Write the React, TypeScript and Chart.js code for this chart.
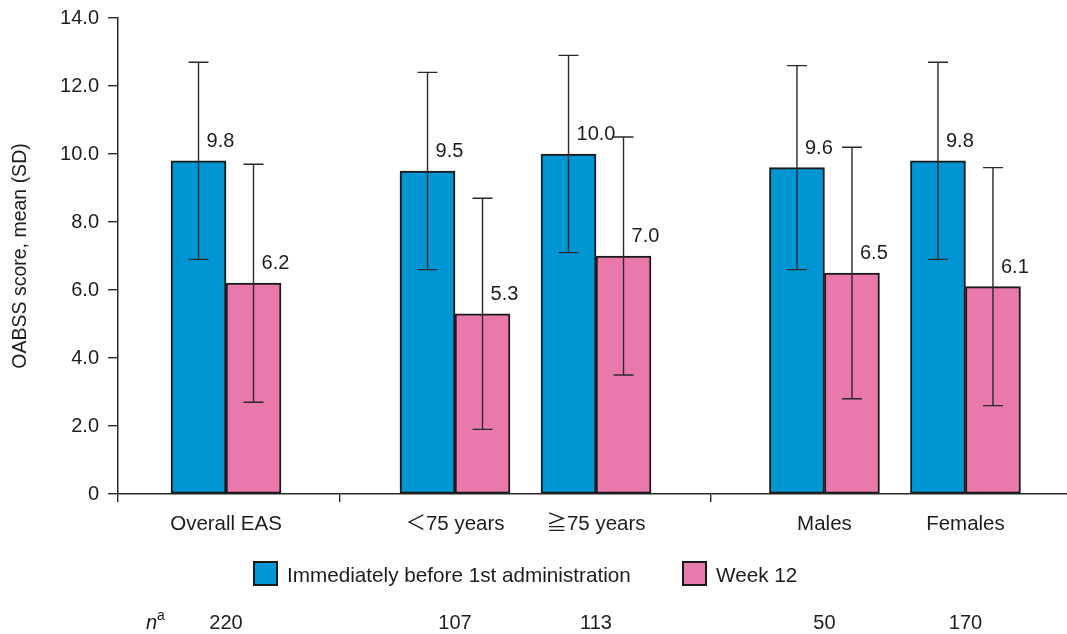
import { useEffect, useRef } from "react";
import { Chart, registerables } from "chart.js";

Chart.register(...registerables);

// ---- data ----
const categories = ["Overall EAS", "＜75 years", "≧75 years", "Males", "Females"];
const nValues = ["220", "107", "113", "50", "170"];
const seriesLabels = ["Immediately before 1st administration", "Week 12"];
const beforeMeans = [9.8, 9.5, 10.0, 9.6, 9.8];
const beforeSD = [2.9, 2.9, 2.9, 3.0, 2.9];
const week12Means = [6.2, 5.3, 7.0, 6.5, 6.1];
const week12SD = [3.5, 3.4, 3.5, 3.7, 3.5];
const yTickValues = [0, 2, 4, 6, 8, 10, 12, 14];

// ---- layout (axis units, not data) ----
const GROUP_POS = [0.766, 2.39, 3.39, 5.01, 6.01];
const SEPARATORS = [0, 1.574, 4.2];
const X_MAX = 6.73;

const FONT = '"Liberation Sans", Arial, Helvetica, "Noto Sans CJK JP", sans-serif';
const TEXT = "#1f1c1d";
const BLUE = "#0096d4";
const PINK = "#e979aa";
const LINE = "#2a2a2a";

const overlayPlugin = {
  id: "overlay",
  afterDatasetsDraw(chart: any) {
    const ctx = chart.ctx;
    const y = chart.scales.y;
    ctx.save();
    chart.data.datasets.forEach((ds: any, di: number) => {
      const meta = chart.getDatasetMeta(di);
      meta.data.forEach((el: any, i: number) => {
        const mean = ds.data[i].y;
        const sd = ds.sd[i];
        const top = y.getPixelForValue(mean + sd);
        const bot = y.getPixelForValue(mean - sd);
        ctx.strokeStyle = LINE;
        ctx.lineWidth = 1.4;
        ctx.beginPath();
        ctx.moveTo(el.x, top);
        ctx.lineTo(el.x, bot);
        ctx.moveTo(el.x - 10, top);
        ctx.lineTo(el.x + 10, top);
        ctx.moveTo(el.x - 10, bot);
        ctx.lineTo(el.x + 10, bot);
        ctx.stroke();
        ctx.fillStyle = TEXT;
        ctx.font = `20px ${FONT}`;
        ctx.textAlign = "left";
        ctx.textBaseline = "alphabetic";
        ctx.fillText(mean.toFixed(1), el.x + 8, el.y - 14);
      });
    });
    ctx.restore();
  },
  afterDraw(chart: any) {
    const ctx = chart.ctx;
    const x = chart.scales.x;
    ctx.save();
    ctx.fillStyle = TEXT;
    ctx.textBaseline = "alphabetic";
    // category labels
    ctx.font = `20.5px ${FONT}`;
    ctx.textAlign = "center";
    categories.forEach((c, i) => {
      ctx.fillText(c, x.getPixelForValue(GROUP_POS[i]), 530);
    });
    // legend
    const colors = [BLUE, PINK];
    const starts = [254, 683];
    seriesLabels.forEach((lab, i) => {
      const bx = starts[i];
      ctx.fillStyle = colors[i];
      ctx.fillRect(bx, 562, 23, 23);
      ctx.strokeStyle = "#1a1a1a";
      ctx.lineWidth = 2;
      ctx.strokeRect(bx, 562, 23, 23);
      ctx.fillStyle = TEXT;
      ctx.textAlign = "left";
      ctx.font = `20.7px ${FONT}`;
      ctx.fillText(lab, bx + 33, 582);
    });
    // n row
    ctx.font = `italic 20px ${FONT}`;
    ctx.textAlign = "left";
    ctx.fillText("n", 146, 629);
    ctx.font = `14px ${FONT}`;
    ctx.fillText("a", 157, 620);
    ctx.font = `20px ${FONT}`;
    ctx.textAlign = "center";
    nValues.forEach((n, i) => {
      ctx.fillText(n, x.getPixelForValue(GROUP_POS[i]), 629);
    });
    ctx.restore();
  },
};

export default function App() {
  const ref = useRef<HTMLCanvasElement | null>(null);
  useEffect(() => {
    document.body.style.margin = "0";
    if (!ref.current) return;
    Chart.defaults.font.family = FONT;
    Chart.defaults.color = TEXT;
    const chart = new Chart(ref.current, {
      type: "bar",
      data: {
        datasets: [
          {
            label: seriesLabels[0],
            data: beforeMeans.map((v, i) => ({ x: GROUP_POS[i], y: v })),
            backgroundColor: BLUE,
            borderColor: "#1a1a1a",
            borderWidth: 2,
            borderSkipped: false,
            barThickness: 55,
            sd: beforeSD,
          } as any,
          {
            label: seriesLabels[1],
            data: week12Means.map((v, i) => ({ x: GROUP_POS[i], y: v })),
            backgroundColor: PINK,
            borderColor: "#1a1a1a",
            borderWidth: 2,
            borderSkipped: false,
            barThickness: 55,
            sd: week12SD,
          } as any,
        ],
      },
      options: {
        animation: false,
        responsive: false,
        layout: { padding: { top: 18, right: 0, bottom: 0, left: 0 } },
        plugins: { legend: { display: false }, tooltip: { enabled: false } },
        scales: {
          x: {
            type: "linear",
            min: 0,
            max: X_MAX,
            offset: false,
            afterBuildTicks: (s: any) => {
              s.ticks = SEPARATORS.map((v) => ({ value: v }));
            },
            afterFit: (s: any) => {
              s.height = 140;
            },
            ticks: { callback: () => "", font: { size: 19 } },
            grid: {
              offset: false,
              drawOnChartArea: false,
              drawTicks: true,
              tickLength: 8,
              color: LINE,
              lineWidth: 1.4,
            },
            border: { display: true, color: LINE, width: 1.5 },
          },
          y: {
            min: 0,
            max: 14,
            afterBuildTicks: (s: any) => {
              s.ticks = yTickValues.map((v) => ({ value: v }));
            },
            afterFit: (s: any) => {
              s.width = 118;
            },
            ticks: {
              callback: (v: any) => (Number(v) === 0 ? "0" : Number(v).toFixed(1)),
              font: { size: 20, lineHeight: 0.9 },
              color: TEXT,
              padding: 9,
            },
            grid: {
              drawOnChartArea: false,
              drawTicks: true,
              tickLength: 10,
              color: LINE,
              lineWidth: 1.4,
            },
            border: { display: true, color: LINE, width: 1.5 },
            title: {
              display: true,
              text: "OABSS score, mean (SD)",
              font: { size: 19.5 },
              color: TEXT,
              padding: { top: 9, bottom: 0 },
            },
          },
        },
      },
      plugins: [overlayPlugin],
    });
    return () => chart.destroy();
  }, []);
  return (
    <div style={{ width: 1067, height: 634 }}>
      <canvas ref={ref} width={1067} height={634} />
    </div>
  );
}
